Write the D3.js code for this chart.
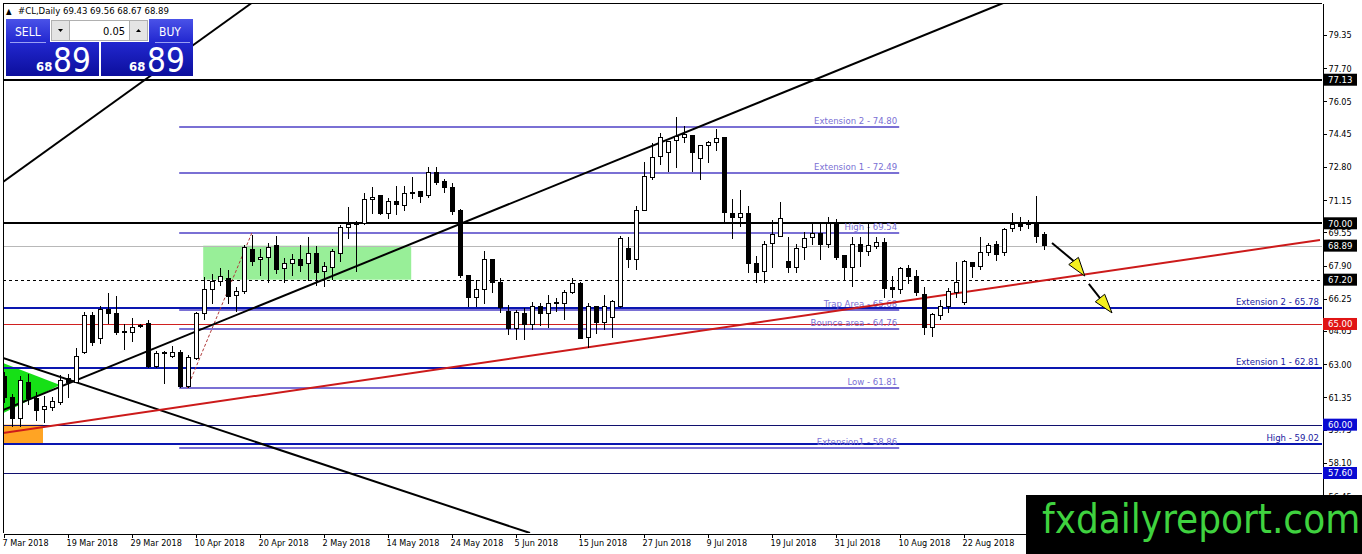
<!DOCTYPE html>
<html>
<head>
<meta charset="utf-8">
<title>#CL Daily</title>
<script src="https://cdn.jsdelivr.net/npm/d3@7"></script>
<style>
  html, body { margin: 0; padding: 0; background: #fff; overflow: hidden; }
  svg text { font-family: "DejaVu Sans Condensed", "DejaVu Sans", sans-serif; }
  .axis text { font-size: 9px; fill: #000; }
  .axis line, .axis path { stroke: #000; shape-rendering: crispEdges; }
</style>
</head>
<body>
<div id="chart"></div>
<script>
// ---- data ----
var dateLabels = ["7 Mar 2018", "19 Mar 2018", "29 Mar 2018", "10 Apr 2018", "20 Apr 2018", "2 May 2018",
  "14 May 2018", "24 May 2018", "5 Jun 2018", "15 Jun 2018", "27 Jun 2018", "9 Jul 2018",
  "19 Jul 2018", "31 Jul 2018", "10 Aug 2018", "22 Aug 2018"];
var dateBars = [0, 8, 16, 24, 32, 40, 48, 56, 64, 72, 80, 88, 96, 104, 112, 120];

var priceTicks = [79.35, 77.70, 76.05, 74.45, 72.80, 71.15, 69.55, 67.90, 66.25, 64.65, 63.00, 61.35, 59.75, 58.10, 56.45];

// daily bars, one row per bar: open, high, low, close
var openP = [62.37,61.33,60.3,62.1,61.3,60.75,60.85,61.1,62.3,62.1,63.6,65.4,64.3,65.7,65.5,64.6,64.6,64.9,65.0,62.9,
  63.6,63.4,63.6,61.9,63.3,65.5,66.7,67.1,67.25,66.4,66.6,68.7,68.2,68.3,68.9,67.75,68.0,68.2,68.0,68.5,
  67.6,67.8,68.5,69.8,70.0,70.0,71.2,71.4,70.5,71.1,70.9,71.5,71.6,71.4,72.5,72.1,71.8,70.65,67.4,66.3,
  66.7,68.2,67.05,65.6,64.8,65.5,64.95,65.85,65.5,66.05,66.0,66.55,67.0,64.35,65.85,65.05,65.3,65.85,68.75,68.2,
  70.65,72.25,73.3,73.5,74.1,74.25,74.35,73.2,73.85,74.0,74.25,70.5,70.3,70.5,68.0,67.6,69.0,69.35,68.1,67.8,
  68.8,69.3,69.5,68.95,70.0,68.4,67.8,68.95,68.6,68.85,69.05,66.8,66.7,67.75,67.35,66.45,64.85,65.4,65.85,66.55,
  66.05,68.05,67.85,68.55,68.95,68.55,69.75,70.0,70.0,70.05,69.43];
var highP = [62.6,61.5,62.4,62.5,61.6,61.4,61.35,62.45,62.5,63.8,65.6,65.6,65.9,66.55,66.4,65.0,65.3,65.0,65.2,63.65,
  63.65,63.9,63.7,63.45,65.6,67.35,67.5,67.8,67.7,66.85,68.9,69.4,68.7,69.0,69.35,68.3,68.5,68.9,69.3,68.85,
  68.1,68.7,69.9,70.8,70.1,71.5,71.8,71.4,71.25,71.85,71.85,72.3,71.6,72.8,72.8,72.2,72.0,70.7,67.4,67.2,
  68.6,68.2,67.3,65.95,65.7,65.8,66.1,66.05,66.45,66.3,66.7,67.3,67.1,66.05,65.85,66.45,66.2,69.35,69.3,70.85,
  73.05,74.0,74.5,74.1,75.3,74.85,74.35,73.9,74.1,74.7,74.25,71.2,71.65,70.85,68.4,69.1,70.15,71.05,69.3,68.95,
  69.55,70.0,70.0,70.3,70.2,68.4,69.3,69.3,69.95,69.3,69.25,67.4,67.85,67.95,67.7,66.85,65.55,66.2,66.8,68.1,
  68.2,68.05,69.3,69.0,69.1,69.75,70.5,70.3,70.15,71.35,69.56];
var lowP = [61.1,59.9,59.9,61.0,60.2,60.1,60.7,61.0,61.3,62.1,63.5,63.9,64.0,65.0,64.45,63.7,64.1,64.8,62.8,62.8,
  62.0,63.3,61.8,61.8,63.2,65.2,66.0,66.9,66.0,65.6,66.5,67.9,67.4,67.05,67.5,67.05,67.4,67.6,67.15,66.9,
  66.85,67.2,68.1,69.2,67.6,69.9,70.45,70.4,70.2,70.4,70.6,71.2,71.0,71.25,71.9,71.5,70.4,67.3,65.85,65.85,
  66.0,66.55,65.55,64.45,64.2,64.2,64.7,64.9,64.8,65.6,65.2,66.5,64.25,63.8,64.5,64.7,64.3,65.8,67.8,67.7,
  70.6,72.15,72.9,72.55,72.75,74.0,72.55,72.15,73.0,73.6,70.0,69.2,69.8,67.55,67.05,67.05,67.8,69.3,67.55,67.55,
  68.2,68.9,68.2,68.75,68.2,67.2,66.85,67.85,68.4,68.7,66.3,66.3,66.5,67.0,66.4,64.45,64.35,65.2,65.55,66.3,
  65.95,67.3,67.7,68.4,68.15,68.4,69.55,69.6,69.7,69.0,68.67];
var closeP = [61.33,60.3,62.2,61.3,60.7,60.9,61.15,62.2,62.1,63.4,65.4,64.1,65.7,65.5,64.6,64.62,64.85,64.92,62.9,63.55,
  63.58,63.6,61.9,63.35,65.5,66.7,67.1,67.35,66.35,66.6,68.8,68.1,68.3,68.8,67.7,68.0,68.2,67.9,68.5,67.55,
  67.85,68.6,69.8,69.95,69.95,71.2,71.3,70.5,71.1,70.95,71.5,71.55,71.35,72.5,72.05,71.8,70.6,67.4,66.3,66.7,
  68.2,67.05,65.8,64.8,65.55,64.95,65.85,65.5,66.0,66.0,66.55,67.0,64.3,65.85,65.05,65.85,66.1,69.25,68.2,70.65,
  72.3,73.25,74.25,74.05,74.3,74.4,73.5,73.85,74.0,74.2,70.55,70.3,70.5,68.0,67.55,68.95,69.45,70.25,67.8,68.75,
  69.25,69.5,68.95,70.0,68.3,67.8,68.95,68.6,68.9,69.05,66.75,66.7,67.75,67.35,66.55,64.85,65.45,65.85,66.6,67.05,
  68.1,67.85,68.55,68.9,68.45,69.7,69.95,69.85,69.95,69.35,68.89];

// full-width horizontal levels
var levelPrices = [77.13, 70.00, 68.89, 67.20, 65.78, 65.00, 62.81, 60.00, 59.02, 57.60];
var levelKinds  = ["black", "black", "current", "dash", "blue", "red", "blue", "navy", "blue", "navy"];
var levelNames  = ["", "", "", "", "Extension 2 - 65.78", "", "Extension 1 - 62.81", "", "High - 59.02", ""];

// marked prices on the price scale
var boxPrices = [77.13, 70.00, 68.89, 67.20, 65.00, 60.00, 57.60];
var boxKinds  = ["black", "black", "black", "black", "red", "blue", "blue"];

// fibonacci tool: levels, names, bar span, base swing
var fibPrices = [74.80, 72.49, 69.54, 65.68, 64.76, 61.81, 58.86];
var fibNames  = ["Extension 2 - 74.80", "Extension 1 - 72.49", "High - 69.54", "Trap Area - 65.68",
  "Bounce area - 64.76", "Low - 61.81", "Extension1 - 58.86"];
var fibSpan  = [21.9, 111.9];
var fibSwing = [[22.9, 61.81], [31, 69.54]];

// trend lines as [bar, price] pairs
var trendLines = [
  {a: [-0.125, 72.05], b: [31, 80.95], color: "#000"},
  {a: [-0.125, 60.73], b: [124.9, 80.94], color: "#000"},
  {a: [-0.125, 63.31], b: [65.75, 54.62], color: "#000"},
  {a: [-0.125, 59.59], b: [164.5, 69.17], color: "#cc1a1a"}
];

// zones
var greenBox  = {bars: [24.9, 50.9], prices: [67.20, 68.89]};
var orangeBox = {bars: [-0.125, 4.875], prices: [59.02, 60.00]};
var greenTri  = [[-0.125, 63.06], [7, 61.97], [-0.125, 60.57]];

// forecast arrows: start, head base, tip
var arrows = [
  [[131, 69.02], [133.7, 68.13], [135.1, 67.38]],
  [[135.6, 66.99], [137.0, 66.29], [138.5, 65.55]]
];

// ---- chart ----
var W = 1362, H = 554;
var plot = {left: 3, right: 1322, top: 3, bottom: 533};

var svg = d3.select("#chart").append("svg")
  .attr("width", W).attr("height", H)
  .style("display", "block");

svg.append("rect").attr("width", W).attr("height", H).attr("fill", "#fff");

var x = d3.scaleLinear().domain([-0.125, 164.75]).range([plot.left, plot.right]);
var y = d3.scaleLinear().domain([54.62, 80.94]).range([plot.bottom, plot.top]);

var defs = svg.append("defs");
defs.append("clipPath").attr("id", "plotclip").append("rect")
  .attr("x", plot.left).attr("y", plot.top)
  .attr("width", plot.right - plot.left).attr("height", plot.bottom - plot.top);

var g = svg.append("g").attr("clip-path", "url(#plotclip)");

// zones in the background
g.append("rect")
  .attr("x", x(greenBox.bars[0])).attr("width", x(greenBox.bars[1]) - x(greenBox.bars[0]))
  .attr("y", y(greenBox.prices[1])).attr("height", y(greenBox.prices[0]) - y(greenBox.prices[1]))
  .attr("fill", "#98ef98");
g.append("rect")
  .attr("x", x(orangeBox.bars[0])).attr("width", x(orangeBox.bars[1]) - x(orangeBox.bars[0]))
  .attr("y", y(orangeBox.prices[1])).attr("height", y(orangeBox.prices[0]) - y(orangeBox.prices[1]))
  .attr("fill", "#ffa424");
g.append("polygon")
  .attr("points", greenTri.map(function(d) { return x(d[0]) + "," + y(d[1]); }).join(" "))
  .attr("fill", "#16e016");

// horizontal levels
var levelStyle = {
  black:   {stroke: "#000", width: 2, dash: null},
  current: {stroke: "#b8b8b8", width: 1, dash: null},
  dash:    {stroke: "#000", width: 1, dash: "3,3"},
  blue:    {stroke: "#0a16b0", width: 2, dash: null},
  red:     {stroke: "#d02020", width: 1, dash: null},
  navy:    {stroke: "#10106e", width: 1, dash: null}
};
levelPrices.forEach(function(p, i) {
  var s = levelStyle[levelKinds[i]];
  var yy = Math.round(y(p)) + (s.width === 1 ? 0.5 : 0);
  g.append("line")
    .attr("x1", plot.left).attr("x2", plot.right)
    .attr("y1", yy).attr("y2", yy)
    .attr("stroke", s.stroke).attr("stroke-width", s.width)
    .attr("stroke-dasharray", s.dash);
  if (levelNames[i]) {
    g.append("text")
      .attr("x", plot.right - 3).attr("y", yy - 3)
      .attr("text-anchor", "end")
      .attr("font-size", 9.5)
      .attr("fill", "#1a1aa0")
      .text(levelNames[i]);
  }
});

// fibonacci levels
fibPrices.forEach(function(p, i) {
  var yy = Math.round(y(p));
  g.append("line")
    .attr("x1", x(fibSpan[0])).attr("x2", x(fibSpan[1]))
    .attr("y1", yy).attr("y2", yy)
    .attr("stroke", "#7a70d4").attr("stroke-width", 2);
  g.append("text")
    .attr("x", x(fibSpan[1]) - 2).attr("y", yy - 3)
    .attr("text-anchor", "end")
    .attr("font-size", 9.5)
    .attr("fill", "#7a70d4")
    .text(fibNames[i]);
});
g.append("line")
  .attr("x1", x(fibSwing[0][0])).attr("y1", y(fibSwing[0][1]))
  .attr("x2", x(fibSwing[1][0])).attr("y2", y(fibSwing[1][1]))
  .attr("stroke", "#b03a3a").attr("stroke-width", 1).attr("stroke-dasharray", "3,2");

// trend lines
trendLines.forEach(function(t) {
  g.append("line")
    .attr("x1", x(t.a[0])).attr("y1", y(t.a[1]))
    .attr("x2", x(t.b[0])).attr("y2", y(t.b[1]))
    .attr("stroke", t.color).attr("stroke-width", 2);
});

// candles
var bars = d3.range(openP.length);
var candles = g.append("g").attr("shape-rendering", "crispEdges");
candles.selectAll(".wick")
  .data(bars).enter().append("line")
  .attr("class", "wick")
  .attr("x1", function(i) { return Math.round(x(i)) + 0.5; })
  .attr("x2", function(i) { return Math.round(x(i)) + 0.5; })
  .attr("y1", function(i) { return y(highP[i]); })
  .attr("y2", function(i) { return y(lowP[i]); })
  .attr("stroke", "#000");
candles.selectAll(".body")
  .data(bars).enter().append("rect")
  .attr("class", "body")
  .attr("x", function(i) { return Math.round(x(i)) - 1.5; })
  .attr("width", 4)
  .attr("y", function(i) { return y(Math.max(openP[i], closeP[i])); })
  .attr("height", function(i) { return Math.max(1, Math.abs(y(openP[i]) - y(closeP[i]))); })
  .attr("fill", function(i) { return closeP[i] >= openP[i] ? "#fff" : "#000"; })
  .attr("stroke", "#000");

// forecast arrows
arrows.forEach(function(a) {
  var p0 = [x(a[0][0]), y(a[0][1])], p1 = [x(a[1][0]), y(a[1][1])], p2 = [x(a[2][0]), y(a[2][1])];
  g.append("line")
    .attr("x1", p0[0]).attr("y1", p0[1]).attr("x2", p1[0]).attr("y2", p1[1])
    .attr("stroke", "#000").attr("stroke-width", 2);
  var dx = p2[0] - p1[0], dy = p2[1] - p1[1], len = Math.sqrt(dx * dx + dy * dy);
  var nx = -dy / len * 6, ny = dx / len * 6;
  g.append("polygon")
    .attr("points", [[p1[0] + nx, p1[1] + ny], [p2[0], p2[1]], [p1[0] - nx, p1[1] - ny]]
      .map(function(p) { return p.join(","); }).join(" "))
    .attr("fill", "#f4f020").attr("stroke", "#000").attr("stroke-width", 1);
});

// frame
svg.append("line").attr("x1", plot.left + 0.5).attr("x2", plot.left + 0.5)
  .attr("y1", plot.top).attr("y2", plot.bottom).attr("stroke", "#000");
svg.append("line").attr("x1", plot.left).attr("x2", plot.right)
  .attr("y1", plot.top + 0.5).attr("y2", plot.top + 0.5).attr("stroke", "#000");

// price scale
var yAxis = d3.axisRight(y).tickValues(priceTicks).tickSize(4).tickSizeOuter(0)
  .tickFormat(d3.format(".2f"));
var yg = svg.append("g").attr("class", "axis")
  .attr("transform", "translate(" + (plot.right + 0.5) + ",0)")
  .call(yAxis);
yg.selectAll(".tick text").attr("x", 6);

var boxColor = {black: "#000", red: "#e01414", blue: "#0a0ad2"};
boxPrices.forEach(function(p, i) {
  var yy = y(p);
  svg.append("rect")
    .attr("x", plot.right + 1).attr("y", yy - 6)
    .attr("width", 34).attr("height", 12)
    .attr("fill", boxColor[boxKinds[i]]);
  svg.append("text")
    .attr("x", plot.right + 6).attr("y", yy + 3.5)
    .attr("font-size", 9.5).attr("fill", "#fff")
    .text(d3.format(".2f")(p));
});

// time scale
var xAxis = d3.axisBottom(x).tickValues(dateBars).tickSize(4).tickSizeOuter(0)
  .tickFormat(function(d, i) { return dateLabels[i]; });
var xg = svg.append("g").attr("class", "axis")
  .attr("transform", "translate(0," + (plot.bottom + 0.5) + ")")
  .call(xAxis);
xg.selectAll(".tick text").attr("text-anchor", "start").attr("x", -2).attr("y", 6);
xg.selectAll(".tick text").attr("font-size", 9.5);

// header line
svg.append("text").attr("x", 6).attr("y", 14).attr("font-size", 8).text("\u25B2");
svg.append("text").attr("x", 18).attr("y", 14).attr("font-size", 9.5)
  .text("#CL,Daily  69.43 69.56 68.67 68.89");

// one-click trade panel
var grad = defs.append("linearGradient").attr("id", "btn").attr("x1", 0).attr("x2", 0).attr("y1", 0).attr("y2", 1);
grad.append("stop").attr("offset", "0%").attr("stop-color", "#4a52e8");
grad.append("stop").attr("offset", "40%").attr("stop-color", "#2228d0");
grad.append("stop").attr("offset", "100%").attr("stop-color", "#0c0e9c");

var panel = svg.append("g");
panel.append("rect").attr("x", 6).attr("y", 19).attr("width", 93).attr("height", 57).attr("fill", "url(#btn)");
panel.append("rect").attr("x", 101).attr("y", 19).attr("width", 92).attr("height", 57).attr("fill", "url(#btn)");
panel.append("rect").attr("x", 50).attr("y", 19).attr("width", 99).attr("height", 23).attr("fill", "#fff");
panel.append("rect").attr("x", 51.5).attr("y", 20.5).attr("width", 96).attr("height", 20)
  .attr("fill", "#fff").attr("stroke", "#b0b0b0");
panel.append("rect").attr("x", 51.5).attr("y", 20.5).attr("width", 18).attr("height", 20)
  .attr("fill", "#e4e4e4").attr("stroke", "#b0b0b0");
panel.append("rect").attr("x", 129.5).attr("y", 20.5).attr("width", 18).attr("height", 20)
  .attr("fill", "#e4e4e4").attr("stroke", "#b0b0b0");
panel.append("path").attr("d", "M58,29 L63,29 L60.5,32 Z").attr("fill", "#000");
panel.append("path").attr("d", "M136,32 L141,32 L138.5,29 Z").attr("fill", "#000");
panel.append("text").attr("x", 125).attr("y", 35).attr("text-anchor", "end")
  .attr("font-size", 11).attr("fill", "#000").text("0.05");
panel.append("line").attr("x1", 10).attr("x2", 46).attr("y1", 42.5).attr("y2", 42.5).attr("stroke", "#9aa0f4");
panel.append("line").attr("x1", 155).attr("x2", 190).attr("y1", 42.5).attr("y2", 42.5).attr("stroke", "#9aa0f4");
panel.append("text").attr("x", 15).attr("y", 36).attr("font-size", 12).attr("fill", "#fff").text("SELL");
panel.append("text").attr("x", 159).attr("y", 36).attr("font-size", 12).attr("fill", "#fff").text("BUY");
[[36, 53], [129, 147]].forEach(function(p) {
  panel.append("text").attr("x", p[0]).attr("y", 71).attr("font-size", 13)
    .attr("font-weight", "bold").attr("fill", "#fff").text("68");
  panel.append("text").attr("x", p[1]).attr("y", 72)
    .attr("font-family", "'Open Sans', 'Liberation Sans', sans-serif")
    .attr("font-size", 33).attr("fill", "#fff").text("89");
});

// watermark
svg.append("rect").attr("x", 1026).attr("y", 495).attr("width", 336).attr("height", 59).attr("fill", "#000");
svg.append("text").attr("x", 1042).attr("y", 533)
  .attr("font-family", "'Liberation Sans', Arial, sans-serif")
  .attr("font-size", 40).attr("fill", "#3fd23f")
  .text("fxdailyreport.com");
</script>
</body>
</html>
